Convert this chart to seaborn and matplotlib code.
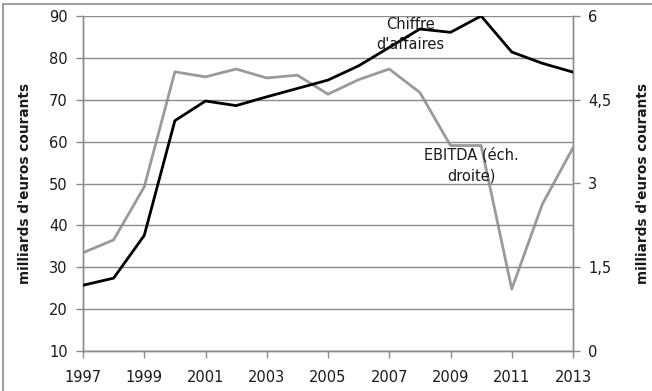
import matplotlib
matplotlib.use("Agg")
import matplotlib.pyplot as plt
import matplotlib.ticker as mticker
from matplotlib.patches import Rectangle
import seaborn as sns
import pandas as pd

years = list(range(1997, 2014))
chiffre_affaires = [25.7, 27.4, 37.6, 65.0, 69.7, 68.6, 70.7, 72.7, 74.7, 78.1, 82.5, 86.9, 86.1, 90.0, 81.4, 78.7, 76.6]
ebitda = [1.76, 1.99, 2.94, 5.00, 4.91, 5.05, 4.89, 4.94, 4.60, 4.86, 5.05, 4.63, 3.68, 3.68, 1.11, 2.63, 3.64]
left_ticks = [10, 20, 30, 40, 50, 60, 70, 80, 90]
right_ticks = [0, 1.5, 3, 4.5, 6]
year_ticks = list(range(1997, 2014, 2))
axis_label = "milliards d'euros courants"

df = pd.DataFrame({"annee": years, "ca": chiffre_affaires, "ebitda": ebitda})

sns.set_theme(style="white")
plt.rcParams["font.family"] = ["DejaVu Sans"]

grid_col = "#8c8c8c"
text_col = "#1a1a1a"
fig = plt.figure(figsize=(6.52, 3.91), dpi=100)
ax = fig.add_axes([83 / 652, 1 - 351 / 391, (573 - 83) / 652, (351 - 16) / 391])
ax2 = ax.twinx()

# chart-area frame
fig.patches.append(Rectangle((3 / 652, -0.05), 1.2, 1 - 4 / 391 + 0.05,
                             transform=fig.transFigure, fill=False,
                             edgecolor="#8c8c8c", linewidth=1.2))

sns.lineplot(data=df, x="annee", y="ebitda", ax=ax2, color="#9a9a9a", linewidth=2.0, zorder=2)
sns.lineplot(data=df, x="annee", y="ca", ax=ax, color="black", linewidth=2.0, zorder=3)
ax.set_zorder(ax2.get_zorder() + 1)
ax.patch.set_visible(False)

ax.set_xlim(1997, 2013)
ax.set_ylim(10, 90)
ax2.set_ylim(0, 6)
ax.set_xticks(year_ticks)
ax.set_yticks(left_ticks)
ax2.set_yticks(right_ticks)
ax2.yaxis.set_major_formatter(mticker.FuncFormatter(lambda v, p: f"{v:g}".replace(".", ",")))

ax.yaxis.grid(True, color=grid_col, linewidth=1.0)
ax.xaxis.grid(False)
ax2.grid(False)

for a in (ax, ax2):
    for s in a.spines.values():
        s.set_visible(False)
    for s in ("left", "right", "bottom"):
        a.spines[s].set_visible(True)
        a.spines[s].set_color(grid_col)
        a.spines[s].set_linewidth(1.0)

ax.tick_params(axis="x", direction="out", length=5, width=1, color=grid_col,
               pad=9, labelsize=10.5, labelcolor=text_col, bottom=True)
ax.tick_params(axis="y", direction="out", length=5, width=1, color=grid_col,
               pad=6, labelsize=10.5, labelcolor=text_col, left=True)
ax2.tick_params(axis="y", direction="out", length=5, width=1, color=grid_col,
                pad=6, labelsize=10.5, labelcolor=text_col, right=True)

ax.set_xlabel("")
ax.set_ylabel(axis_label, fontsize=9.8, fontweight="bold", color=text_col)
ax2.set_ylabel(axis_label, fontsize=9.8, fontweight="bold", color=text_col)
ax.yaxis.set_label_coords(-(83 - 32) / 490, 0.5)
ax2.yaxis.set_label_coords(1 + (636 - 573) / 490, 0.5)

ax.text(2007.7, 85.6, "Chiffre\nd'affaires", ha="center", va="center",
        fontsize=10.5, linespacing=1.45, color=text_col, zorder=5)
ax2.text(2009.67, 3.33, "EBITDA (éch.\ndroite)", ha="center", va="center",
         fontsize=10.5, linespacing=1.45, color=text_col, zorder=5)

fig.savefig("out.png", dpi=100)
